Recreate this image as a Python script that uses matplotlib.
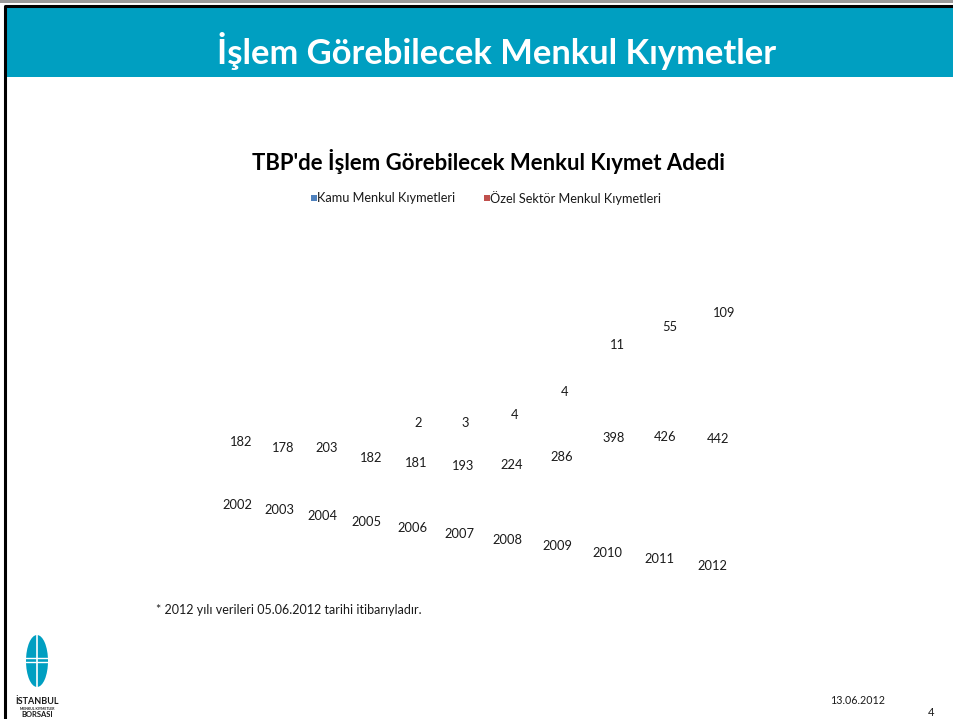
# -*- coding: utf-8 -*-
"""TBP'de islem gorebilecek menkul kiymet adedi - slayt"""
import matplotlib
matplotlib.use('Agg')
import matplotlib.pyplot as plt
from matplotlib.patches import Rectangle, Ellipse

plt.rcParams['font.family']=['Lato','DejaVu Sans']

YEARS=['2002','2003','2004','2005','2006','2007','2008','2009','2010','2011','2012']
KAMU=[182,178,203,182,181,193,224,286,398,426,442]
OZEL=[None,None,None,None,2,3,4,4,11,55,109]
SERIES=['Kamu Menkul Kıymetleri','Özel Sektör Menkul Kıymetleri']
COLORS=['#4F81BD','#C0504D']
TEAL='#009FC1'
W,H=954,719

# 3B grafik zemini (perspektif): kategori sirasi + deger -> piksel
def floor(i):
    return 237+41.5*i+0.6*i*i, 480+5.4*i+0.07*i*i
def proj(i,v):
    x0,b=floor(i)
    return x0+2+0.02*v, b-(0.42+0.004*i)*v

fig=plt.figure(figsize=(W/100,H/100),dpi=100,facecolor='white')
ax=fig.add_axes([0,0,1,1]); ax.set_xlim(0,W); ax.set_ylim(H,0); ax.axis('off')

# cerceve + baslik bandi
ax.add_patch(Rectangle((0,0),W,3,color='#9A9A9A',lw=0))
ax.add_patch(Rectangle((7,7),W,70,color=TEAL,lw=0))
ax.plot([5.5,5.5,W+5],[H+5,5.5,5.5],color='black',lw=2.2,solid_capstyle='butt')
ax.text(497,51,'İşlem Görebilecek Menkul Kıymetler',fontsize=24.8,fontweight='bold',color='white',ha='center',va='center')

# grafik basligi ve lejant
ax.text(488,162,"TBP'de İşlem Görebilecek Menkul Kıymet Adedi",fontsize=15.9,fontweight='bold',color='black',ha='center',va='center')
lx=[311,484]
for k in range(2):
    ax.add_patch(Rectangle((lx[k],194.5),6,6,color=COLORS[k],lw=0))
    ax.text(lx[k]+6.5,198,SERIES[k],fontsize=9.2,color='#1A1A1A',ha='left',va='center')

# etiketler
for i,y in enumerate(YEARS):
    x0,b=floor(i)
    ax.text(x0,b+25,y,fontsize=9.3,color='#1A1A1A',ha='center',va='center')
    kx,ky=proj(i,KAMU[i]/2)
    ax.text(kx,ky,str(KAMU[i]),fontsize=9.3,color='#1A1A1A',ha='center',va='center')
    if OZEL[i] is not None:
        ox,oy=proj(i,KAMU[i]+OZEL[i]/2)
        ax.text(ox,oy,str(OZEL[i]),fontsize=9.3,color='#1A1A1A',ha='center',va='center')

# dipnot, tarih, sayfa
ax.text(156,610,'* 2012 yılı verileri 05.06.2012 tarihi itibarıyladır.',fontsize=9,color='#1A1A1A',ha='left',va='center')
ax.text(858,700,'13.06.2012',fontsize=7.7,color='#1A1A1A',ha='center',va='center')
ax.text(931,713,'4',fontsize=8,color='#1A1A1A',ha='center',va='center')

# logo
ax.add_patch(Ellipse((37,661),22,52,color=TEAL,lw=0))
ax.plot([37,37],[635,687],color='white',lw=1.2)
ax.plot([26,48],[657.5,657.5],color='white',lw=1)
ax.plot([26,48],[661.5,661.5],color='white',lw=1)
ax.text(37,702,'İSTANBUL',fontsize=6.5,fontweight='bold',color='#1A1A1A',ha='center',va='center')
ax.text(37,709,'MENKUL KIYMETLER',fontsize=2.5,fontweight='bold',color='#1A1A1A',ha='center',va='center')
ax.text(37,714.5,'BORSASI',fontsize=5.5,fontweight='bold',color='#1A1A1A',ha='center',va='center')

plt.savefig('out.png',dpi=100,facecolor='white')
